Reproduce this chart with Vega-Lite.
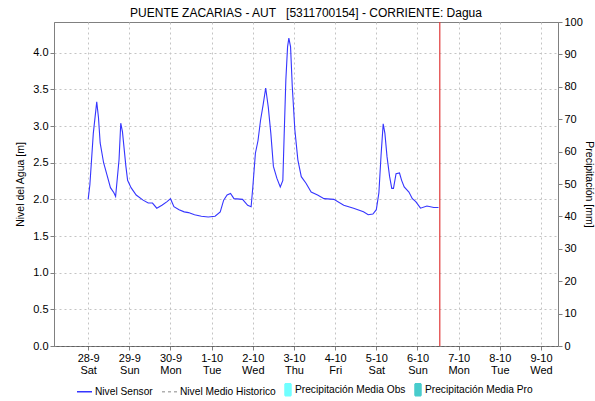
{
  "$schema": "https://vega.github.io/schema/vega-lite/v6.json",
  "width": 504,
  "height": 324,
  "autosize": "none",
  "padding": {"left": 54, "top": 22, "right": 37, "bottom": 55},
  "config": {
    "font": "Liberation Sans",
    "view": {"stroke": "#808080", "strokeWidth": 1},
    "axis": {
      "domainColor": "#808080",
      "tickColor": "#808080",
      "tickSize": 4,
      "labelColor": "#000000",
      "labelFontSize": 11,
      "titleFontSize": 10.5,
      "titleFontWeight": "normal",
      "titleColor": "#000000",
      "gridColor": "#c4c4c4",
      "gridDash": [2, 3],
      "gridWidth": 1
    }
  },
  "title": {
    "text": "PUENTE ZACARIAS - AUT\u00a0\u00a0\u00a0[5311700154] - CORRIENTE: Dagua",
    "fontSize": 12,
    "fontWeight": "normal",
    "color": "#000000",
    "anchor": "middle",
    "offset": -4
  },
  "datasets": {
    "nivel": [
      {"t": "2024-09-28T00:00", "nivel": 2.00, "serie": "Nivel Sensor"},
      {"t": "2024-09-28T01:00", "nivel": 2.20, "serie": "Nivel Sensor"},
      {"t": "2024-09-28T03:00", "nivel": 2.90, "serie": "Nivel Sensor"},
      {"t": "2024-09-28T05:00", "nivel": 3.33, "serie": "Nivel Sensor"},
      {"t": "2024-09-28T06:00", "nivel": 3.12, "serie": "Nivel Sensor"},
      {"t": "2024-09-28T07:00", "nivel": 2.77, "serie": "Nivel Sensor"},
      {"t": "2024-09-28T09:00", "nivel": 2.50, "serie": "Nivel Sensor"},
      {"t": "2024-09-28T11:00", "nivel": 2.33, "serie": "Nivel Sensor"},
      {"t": "2024-09-28T13:00", "nivel": 2.16, "serie": "Nivel Sensor"},
      {"t": "2024-09-28T15:00", "nivel": 2.09, "serie": "Nivel Sensor"},
      {"t": "2024-09-28T16:00", "nivel": 2.04, "serie": "Nivel Sensor"},
      {"t": "2024-09-28T18:00", "nivel": 2.54, "serie": "Nivel Sensor"},
      {"t": "2024-09-28T19:00", "nivel": 3.04, "serie": "Nivel Sensor"},
      {"t": "2024-09-28T20:00", "nivel": 2.92, "serie": "Nivel Sensor"},
      {"t": "2024-09-28T22:00", "nivel": 2.45, "serie": "Nivel Sensor"},
      {"t": "2024-09-28T23:00", "nivel": 2.26, "serie": "Nivel Sensor"},
      {"t": "2024-09-29T01:00", "nivel": 2.16, "serie": "Nivel Sensor"},
      {"t": "2024-09-29T04:00", "nivel": 2.06, "serie": "Nivel Sensor"},
      {"t": "2024-09-29T08:00", "nivel": 1.99, "serie": "Nivel Sensor"},
      {"t": "2024-09-29T11:00", "nivel": 1.95, "serie": "Nivel Sensor"},
      {"t": "2024-09-29T13:30", "nivel": 1.95, "serie": "Nivel Sensor"},
      {"t": "2024-09-29T16:00", "nivel": 1.88, "serie": "Nivel Sensor"},
      {"t": "2024-09-29T19:00", "nivel": 1.92, "serie": "Nivel Sensor"},
      {"t": "2024-09-29T22:00", "nivel": 1.97, "serie": "Nivel Sensor"},
      {"t": "2024-09-30T00:00", "nivel": 2.01, "serie": "Nivel Sensor"},
      {"t": "2024-09-30T02:00", "nivel": 1.90, "serie": "Nivel Sensor"},
      {"t": "2024-09-30T05:00", "nivel": 1.86, "serie": "Nivel Sensor"},
      {"t": "2024-09-30T08:00", "nivel": 1.83, "serie": "Nivel Sensor"},
      {"t": "2024-09-30T10:30", "nivel": 1.82, "serie": "Nivel Sensor"},
      {"t": "2024-09-30T14:00", "nivel": 1.79, "serie": "Nivel Sensor"},
      {"t": "2024-09-30T18:00", "nivel": 1.77, "serie": "Nivel Sensor"},
      {"t": "2024-09-30T22:00", "nivel": 1.76, "serie": "Nivel Sensor"},
      {"t": "2024-10-01T02:00", "nivel": 1.77, "serie": "Nivel Sensor"},
      {"t": "2024-10-01T05:00", "nivel": 1.83, "serie": "Nivel Sensor"},
      {"t": "2024-10-01T07:00", "nivel": 1.99, "serie": "Nivel Sensor"},
      {"t": "2024-10-01T09:00", "nivel": 2.06, "serie": "Nivel Sensor"},
      {"t": "2024-10-01T11:00", "nivel": 2.08, "serie": "Nivel Sensor"},
      {"t": "2024-10-01T13:00", "nivel": 2.01, "serie": "Nivel Sensor"},
      {"t": "2024-10-01T18:00", "nivel": 2.00, "serie": "Nivel Sensor"},
      {"t": "2024-10-01T21:00", "nivel": 1.92, "serie": "Nivel Sensor"},
      {"t": "2024-10-01T23:00", "nivel": 1.90, "serie": "Nivel Sensor"},
      {"t": "2024-10-02T00:00", "nivel": 2.17, "serie": "Nivel Sensor"},
      {"t": "2024-10-02T01:30", "nivel": 2.63, "serie": "Nivel Sensor"},
      {"t": "2024-10-02T03:00", "nivel": 2.80, "serie": "Nivel Sensor"},
      {"t": "2024-10-02T04:30", "nivel": 3.08, "serie": "Nivel Sensor"},
      {"t": "2024-10-02T06:00", "nivel": 3.29, "serie": "Nivel Sensor"},
      {"t": "2024-10-02T07:30", "nivel": 3.52, "serie": "Nivel Sensor"},
      {"t": "2024-10-02T09:00", "nivel": 3.26, "serie": "Nivel Sensor"},
      {"t": "2024-10-02T10:30", "nivel": 2.90, "serie": "Nivel Sensor"},
      {"t": "2024-10-02T12:00", "nivel": 2.45, "serie": "Nivel Sensor"},
      {"t": "2024-10-02T14:00", "nivel": 2.29, "serie": "Nivel Sensor"},
      {"t": "2024-10-02T16:00", "nivel": 2.17, "serie": "Nivel Sensor"},
      {"t": "2024-10-02T17:30", "nivel": 2.26, "serie": "Nivel Sensor"},
      {"t": "2024-10-02T18:15", "nivel": 2.86, "serie": "Nivel Sensor"},
      {"t": "2024-10-02T19:15", "nivel": 3.63, "serie": "Nivel Sensor"},
      {"t": "2024-10-02T20:15", "nivel": 4.08, "serie": "Nivel Sensor"},
      {"t": "2024-10-02T21:00", "nivel": 4.20, "serie": "Nivel Sensor"},
      {"t": "2024-10-02T22:00", "nivel": 4.08, "serie": "Nivel Sensor"},
      {"t": "2024-10-02T23:00", "nivel": 3.54, "serie": "Nivel Sensor"},
      {"t": "2024-10-03T00:30", "nivel": 2.95, "serie": "Nivel Sensor"},
      {"t": "2024-10-03T02:15", "nivel": 2.54, "serie": "Nivel Sensor"},
      {"t": "2024-10-03T04:15", "nivel": 2.31, "serie": "Nivel Sensor"},
      {"t": "2024-10-03T07:00", "nivel": 2.22, "serie": "Nivel Sensor"},
      {"t": "2024-10-03T10:00", "nivel": 2.10, "serie": "Nivel Sensor"},
      {"t": "2024-10-03T13:45", "nivel": 2.06, "serie": "Nivel Sensor"},
      {"t": "2024-10-03T17:30", "nivel": 2.01, "serie": "Nivel Sensor"},
      {"t": "2024-10-03T23:15", "nivel": 2.00, "serie": "Nivel Sensor"},
      {"t": "2024-10-04T05:00", "nivel": 1.92, "serie": "Nivel Sensor"},
      {"t": "2024-10-04T10:45", "nivel": 1.88, "serie": "Nivel Sensor"},
      {"t": "2024-10-04T16:30", "nivel": 1.83, "serie": "Nivel Sensor"},
      {"t": "2024-10-04T19:15", "nivel": 1.79, "serie": "Nivel Sensor"},
      {"t": "2024-10-04T22:00", "nivel": 1.80, "serie": "Nivel Sensor"},
      {"t": "2024-10-05T00:00", "nivel": 1.86, "serie": "Nivel Sensor"},
      {"t": "2024-10-05T01:30", "nivel": 2.09, "serie": "Nivel Sensor"},
      {"t": "2024-10-05T02:45", "nivel": 2.60, "serie": "Nivel Sensor"},
      {"t": "2024-10-05T04:00", "nivel": 3.03, "serie": "Nivel Sensor"},
      {"t": "2024-10-05T05:00", "nivel": 2.90, "serie": "Nivel Sensor"},
      {"t": "2024-10-05T06:15", "nivel": 2.58, "serie": "Nivel Sensor"},
      {"t": "2024-10-05T07:45", "nivel": 2.31, "serie": "Nivel Sensor"},
      {"t": "2024-10-05T09:00", "nivel": 2.15, "serie": "Nivel Sensor"},
      {"t": "2024-10-05T10:00", "nivel": 2.15, "serie": "Nivel Sensor"},
      {"t": "2024-10-05T11:30", "nivel": 2.35, "serie": "Nivel Sensor"},
      {"t": "2024-10-05T13:30", "nivel": 2.36, "serie": "Nivel Sensor"},
      {"t": "2024-10-05T14:45", "nivel": 2.26, "serie": "Nivel Sensor"},
      {"t": "2024-10-05T16:15", "nivel": 2.17, "serie": "Nivel Sensor"},
      {"t": "2024-10-05T19:00", "nivel": 2.10, "serie": "Nivel Sensor"},
      {"t": "2024-10-05T21:00", "nivel": 2.01, "serie": "Nivel Sensor"},
      {"t": "2024-10-05T23:00", "nivel": 1.97, "serie": "Nivel Sensor"},
      {"t": "2024-10-06T01:45", "nivel": 1.88, "serie": "Nivel Sensor"},
      {"t": "2024-10-06T05:30", "nivel": 1.91, "serie": "Nivel Sensor"},
      {"t": "2024-10-06T09:30", "nivel": 1.89, "serie": "Nivel Sensor"},
      {"t": "2024-10-06T12:15", "nivel": 1.89, "serie": "Nivel Sensor"}
    ],
    "precip": [
      {"t": "2024-09-28T00:00", "precip": 0},
      {"t": "2024-09-29T00:00", "precip": 0},
      {"t": "2024-09-30T00:00", "precip": 0},
      {"t": "2024-10-01T00:00", "precip": 0},
      {"t": "2024-10-02T00:00", "precip": 0},
      {"t": "2024-10-03T00:00", "precip": 0},
      {"t": "2024-10-04T00:00", "precip": 0},
      {"t": "2024-10-05T00:00", "precip": 0},
      {"t": "2024-10-06T00:00", "precip": 0}
    ],
    "ahora": [
      {"t": "2024-10-06T13:00"}
    ]
  },
  "encoding": {
    "x": {
      "field": "t",
      "type": "temporal",
      "scale": {
        "domain": [
          {"year": 2024, "month": 9, "date": 27, "hours": 7},
          {"year": 2024, "month": 10, "date": 9, "hours": 7}
        ],
        "nice": false
      },
      "axis": {
        "title": null,
        "tickCount": {"interval": "day", "step": 1},
        "labelExpr": "[timeFormat(datum.value, '%-d-%-m'), timeFormat(datum.value, '%a')]",
        "labelLineHeight": 12,
        "labelPadding": 2,
        "labelBaseline": "top",
        "labelFlush": false,
        "labelOverlap": false,
        "domainColor": "#404040",
        "domainDash": [1, 1],
        "grid": true
      }
    }
  },
  "layer": [
    {
      "data": {"name": "precip"},
      "mark": {"type": "bar", "opacity": 0},
      "encoding": {
        "y": {
          "field": "precip",
          "type": "quantitative",
          "scale": {"domain": [0, 100], "nice": false},
          "axis": {
            "orient": "right",
            "title": "Precipitación [mm]",
            "values": [0, 10, 20, 30, 40, 50, 60, 70, 80, 90, 100],
            "format": "d",
            "grid": false,
            "labelPadding": 2,
            "titlePadding": 1
          }
        }
      }
    },
    {
      "data": {"name": "nivel"},
      "mark": {"type": "line", "strokeWidth": 1.1, "interpolate": "linear"},
      "encoding": {
        "y": {
          "field": "nivel",
          "type": "quantitative",
          "scale": {"domain": [0, 4.42], "nice": false, "zero": true},
          "axis": {
            "orient": "left",
            "title": "Nivel del Agua [m]",
            "values": [0, 0.5, 1, 1.5, 2, 2.5, 3, 3.5, 4],
            "format": ".1f",
            "grid": true,
            "labelPadding": 2,
            "titlePadding": 7
          }
        },
        "color": {
          "field": "serie",
          "type": "nominal",
          "scale": {
            "domain": ["Nivel Sensor", "Nivel Medio Historico", "Precipitación Media Obs", "Precipitación Media Pro"],
            "range": ["#3535ff", "#b0b0b0", "#70ffff", "#48cccc"]
          },
          "legend": {
            "title": null,
            "orient": "none",
            "legendX": 23,
            "legendY": 359,
            "direction": "horizontal",
            "columns": 4,
            "columnPadding": 6,
            "labelOffset": 3,
            "labelFontSize": 10.2,
            "labelColor": "#000000",
            "symbolSize": 225,
            "padding": 0,
            "encode": {
              "symbols": {
                "update": {
                  "shape": {"signal": "indexof(datum.value, 'Precip') == 0 ? 'M-0.4,-0.8H0.4V0.8H-0.4Z' : 'stroke'"},
                  "x": {"signal": "indexof(datum.value, 'Precip') == 0 ? 3 : 7.5"},
                  "fill": {"signal": "datum.value == 'Precipitación Media Obs' ? '#70ffff' : datum.value == 'Precipitación Media Pro' ? '#48cccc' : 'transparent'"},
                  "stroke": {"signal": "datum.value == 'Nivel Sensor' ? '#0000ff' : datum.value == 'Nivel Medio Historico' ? '#a8a8a8' : 'transparent'"},
                  "strokeDash": {"signal": "datum.value == 'Nivel Medio Historico' ? [3, 3] : [1, 0]"},
                  "strokeWidth": {"value": 1.5},
                  "opacity": {"value": 1}
                }
              },
              "labels": {
                "update": {
                  "x": {"signal": "indexof(datum.value, 'Precip') == 0 ? 10 : 18"}
                }
              }
            }
          }
        }
      }
    },
    {
      "data": {"name": "ahora"},
      "mark": {"type": "rule", "color": "#e03838", "strokeWidth": 1.2},
      "encoding": {}
    }
  ],
  "resolve": {"scale": {"y": "independent"}}
}
